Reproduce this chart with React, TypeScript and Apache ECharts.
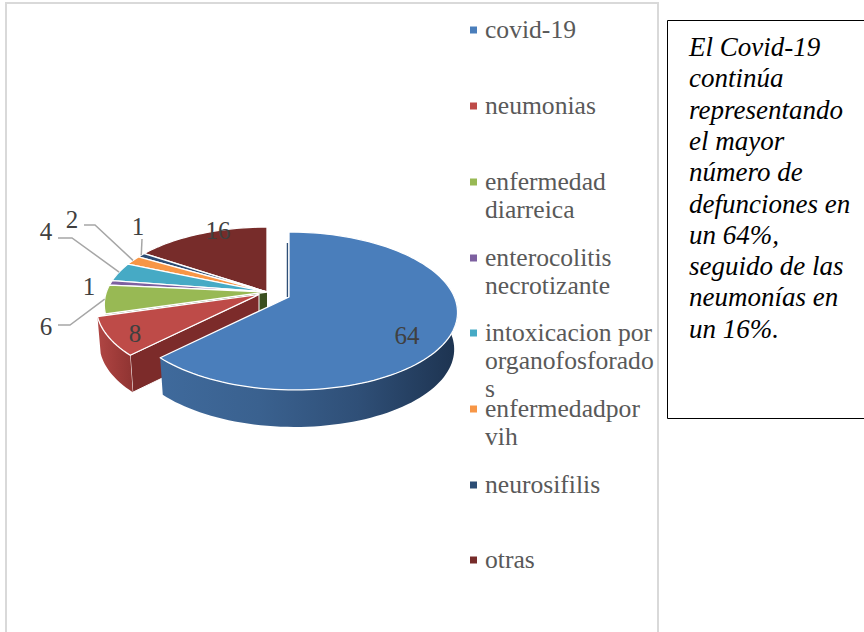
import React, { useEffect, useRef } from "react";
import * as echarts from "echarts";

const categories = ["covid-19", "neumonias", "enfermedad diarreica", "enterocolitis necrotizante", "intoxicacion por organofosforados", "enfermedadpor vih", "neurosifilis", "otras"];
const values = [64, 8, 6, 1, 4, 2, 1, 16];
const legendLines = [["covid-19"], ["neumonias"], ["enfermedad", "diarreica"], ["enterocolitis", "necrotizante"], ["intoxicacion por", "organofosforado", "s"], ["enfermedadpor", "vih"], ["neurosifilis"], ["otras"]];
const note = ["El Covid-19", "continúa", "representando", "el mayor", "número de", "defunciones en", "un 64%,", "seguido de las", "neumonías en", "un 16%."];

const topColors = ["#4a7ebb", "#be4b48", "#98b954", "#7d60a0", "#46aac5", "#f79646", "#2c4d75", "#772c2a"];
const sideColors = ["#1f3550", "#7c2b2a", "#3b5020", "#4a3760", "#286a7c", "#a5632a", "#1b3047", "#4f1d1c"];
const wallGradients: string[][] = [
  ["#3f6a9c", "#3a618f", "#2f4f77", "#1d3350"], ["#b04644", "#a03c3a", "#8f3432"], ["#5c7432", "#5c7432"], ["#4a3760", "#4a3760"],
  ["#286a7c", "#286a7c"], ["#a5632a", "#a5632a"], ["#1b3047", "#1b3047"], ["#4f1d1c", "#4f1d1c"],
];
const labelSpots = [[407, 335], [135, 333], [46, 326], [89, 286], [46, 231], [72, 219], [138, 226], [218, 230]];
const leaderElbows: (number[][] | null)[] = [null, null, [[58, 325], [70, 325]], null, [[58, 238], [72, 238]], [[84, 225], [95, 225]], [[142, 239]], null];
const apexes = [[289, 297], [259, 294.5], [267, 292], [267, 292], [267, 292], [267, 292], [267, 292], [267, 292]];

const H = 76.5, R = 163, K = 0.177, C = 2.4, DEPTH = 37, BOTTOM_SCALE = 0.98;
const total = values.reduce((a, b) => a + b, 0);
const fontFamily = '"Liberation Serif", serif';

function project(theta: number, apex: number[]) {
  const X = Math.sin(theta), Z = Math.cos(theta), w = 1 + K * Z;
  return [apex[0] + (R * X) / w + (C * (1 - Z)) / w, apex[1] - (H * Z) / w];
}
function lower(p: number[], apex: number[]) {
  return [apex[0] + (p[0] - apex[0]) * BOTTOM_SCALE, p[1] + DEPTH];
}
function arc(a: number, b: number, apex: number[]) {
  const n = Math.max(3, Math.ceil(((b - a) * 180) / Math.PI / 2));
  const pts: number[][] = [];
  for (let i = 0; i <= n; i++) pts.push(project(a + ((b - a) * i) / n, apex));
  return pts;
}

function renderSlice(_params: any, api: any) {
  const i = api.value(0);
  const before = values.slice(0, i).reduce((a, b) => a + b, 0);
  const start = (before / total) * Math.PI * 2;
  const end = ((before + values[i]) / total) * Math.PI * 2;
  const apex = apexes[i];
  const children: any[] = [];

  if (i === 0) {
    children.push({ type: "polyline", shape: { points: [[apex[0] - 1.5, apex[1]], [apex[0] - 1.5, apex[1] - 54]] }, style: { stroke: "#2f4f77", lineWidth: 1.5, fill: "none" } });
  }
  if (i !== 0 && i <= 2) {
    const corner = project(start, apex);
    children.push({
      type: "polygon",
      shape: { points: [apex, corner, lower(corner, apex), lower(apex, apex)] },
      style: { fill: sideColors[i], stroke: i === 1 ? "#ffffff" : "none", lineWidth: i === 1 ? 1 : 0 },
    });
  }
  const wallA = Math.max(start, (75 * Math.PI) / 180);
  const wallB = Math.min(end, (285 * Math.PI) / 180);
  if (wallB > wallA) {
    const top = arc(wallA, wallB, apex);
    const bottom = top.map((p) => lower(p, apex)).reverse();
    const stops = wallGradients[i];
    children.push({
      type: "polygon",
      shape: { points: top.concat(bottom) },
      style: {
        fill: {
          type: "linear", x: 0, y: 0, x2: 1, y2: 0,
          colorStops: stops.map((c, k) => ({ offset: k / (stops.length - 1), color: c })),
        },
      },
    });
  }
  children.push({
    type: "polygon",
    shape: { points: [apex, ...arc(start, end, apex)] },
    style: { fill: topColors[i], stroke: "#ffffff", lineWidth: 1.3, lineJoin: "round" },
  });

  const elbow = leaderElbows[i];
  if (elbow) {
    const mid = (start + end) / 2;
    children.push({
      type: "polyline",
      shape: { points: [...elbow, project(mid, apex)] },
      style: { stroke: "#a6a6a6", lineWidth: 1.5, fill: "none" },
    });
  }
  children.push({
    type: "text",
    style: {
      text: String(values[i]), x: labelSpots[i][0], y: labelSpots[i][1],
      font: `25px ${fontFamily}`, fill: "#404040", textAlign: "center", textVerticalAlign: "middle",
    },
  });
  return { type: "group", children };
}

export default function App() {
  const ref = useRef<HTMLDivElement>(null);
  useEffect(() => {
    if (!ref.current) return;
    const chart = echarts.init(ref.current, undefined, { renderer: "svg" });
    const legendY = [30, 106, 182, 258, 333, 409, 485, 560];
    const graphics: any[] = [
      { type: "rect", z: 0, shape: { x: 6, y: 3, width: 652, height: 640 }, style: { fill: "#ffffff", stroke: "#d9d9d9", lineWidth: 2 } },
      { type: "rect", z: 0, shape: { x: 667.5, y: 20.5, width: 220, height: 398 }, style: { fill: "#ffffff", stroke: "#000000", lineWidth: 1 } },
    ];
    categories.forEach((_, i) => {
      graphics.push({ type: "rect", shape: { x: 470, y: legendY[i] - 3.5, width: 7, height: 7 }, style: { fill: topColors[i] } });
      legendLines[i].forEach((line, k) => {
        graphics.push({
          type: "text", x: 485, y: legendY[i] - 1 + k * 28,
          style: { text: line, font: `25.6px ${fontFamily}`, fill: "#595959", textAlign: "left", textVerticalAlign: "middle" },
        });
      });
    });
    note.forEach((line, k) => {
      graphics.push({
        type: "text", x: 689, y: 47 + k * 31.3,
        style: { text: line, font: `italic 27px ${fontFamily}`, fill: "#000000", textAlign: "left", textVerticalAlign: "middle" },
      });
    });
    chart.setOption({
      animation: false,
      backgroundColor: "#ffffff",
      graphic: { elements: graphics },
      series: [{
        type: "custom",
        coordinateSystem: "none",
        z: 5,
        renderItem: renderSlice,
        data: values.map((v, i) => [i, v]).reverse(),
        encode: {},
      }],
    });
    return () => chart.dispose();
  }, []);
  return <div ref={ref} style={{ position: "fixed", left: 0, top: 0, width: 864, height: 632 }} />;
}
